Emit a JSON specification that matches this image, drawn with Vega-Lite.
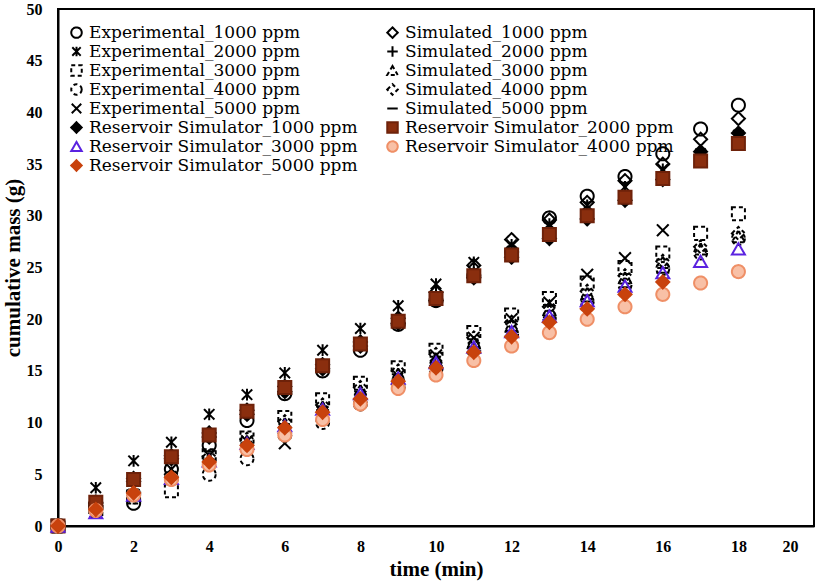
{
  "$schema": "https://vega.github.io/schema/vega-lite/v6.json",
  "width": 756,
  "height": 517,
  "autosize": {"type": "none"},
  "padding": {"left": 58, "top": 9, "right": 12, "bottom": 55},
  "background": "white",
  "config": {
    "view": {"stroke": "black", "strokeWidth": 2},
    "axis": {
      "domainColor": "black", "domainWidth": 2, "grid": false, "ticks": false,
      "labelFont": "Liberation Serif", "labelFontWeight": "bold", "labelFontSize": 16, "labelColor": "black",
      "titleFont": "Liberation Serif", "titleFontWeight": "bold", "titleFontSize": 21, "titleColor": "black"
    }
  },
  "data": {"values": [
    {"s":"Experimental_1000 ppm","t":0,"m":0},{"s":"Experimental_1000 ppm","t":1,"m":1.9},{"s":"Experimental_1000 ppm","t":2,"m":2.2},{"s":"Experimental_1000 ppm","t":3,"m":5.5},{"s":"Experimental_1000 ppm","t":4,"m":7.8},{"s":"Experimental_1000 ppm","t":5,"m":10.2},{"s":"Experimental_1000 ppm","t":6,"m":12.8},{"s":"Experimental_1000 ppm","t":7,"m":15.0},{"s":"Experimental_1000 ppm","t":8,"m":17.0},{"s":"Experimental_1000 ppm","t":9,"m":19.5},{"s":"Experimental_1000 ppm","t":10,"m":21.8},{"s":"Experimental_1000 ppm","t":11,"m":24.2},{"s":"Experimental_1000 ppm","t":12,"m":26.5},{"s":"Experimental_1000 ppm","t":13,"m":29.8},{"s":"Experimental_1000 ppm","t":14,"m":31.9},{"s":"Experimental_1000 ppm","t":15,"m":33.8},{"s":"Experimental_1000 ppm","t":16,"m":36.0},{"s":"Experimental_1000 ppm","t":17,"m":38.4},{"s":"Experimental_1000 ppm","t":18,"m":40.7},
    {"s":"Experimental_2000 ppm","t":0,"m":0},{"s":"Experimental_2000 ppm","t":1,"m":3.7},{"s":"Experimental_2000 ppm","t":2,"m":6.3},{"s":"Experimental_2000 ppm","t":3,"m":8.1},{"s":"Experimental_2000 ppm","t":4,"m":10.8},{"s":"Experimental_2000 ppm","t":5,"m":12.7},{"s":"Experimental_2000 ppm","t":6,"m":14.8},{"s":"Experimental_2000 ppm","t":7,"m":17.0},{"s":"Experimental_2000 ppm","t":8,"m":19.1},{"s":"Experimental_2000 ppm","t":9,"m":21.3},{"s":"Experimental_2000 ppm","t":10,"m":23.4},{"s":"Experimental_2000 ppm","t":11,"m":25.5},{"s":"Experimental_2000 ppm","t":12,"m":27.2},{"s":"Experimental_2000 ppm","t":13,"m":29.2},{"s":"Experimental_2000 ppm","t":14,"m":31.0},{"s":"Experimental_2000 ppm","t":15,"m":32.8},{"s":"Experimental_2000 ppm","t":16,"m":34.5},{"s":"Experimental_2000 ppm","t":17,"m":36.0},{"s":"Experimental_2000 ppm","t":18,"m":37.8},
    {"s":"Experimental_3000 ppm","t":0,"m":0},{"s":"Experimental_3000 ppm","t":1,"m":1.5},{"s":"Experimental_3000 ppm","t":2,"m":2.8},{"s":"Experimental_3000 ppm","t":3,"m":3.4},{"s":"Experimental_3000 ppm","t":4,"m":6.8},{"s":"Experimental_3000 ppm","t":5,"m":8.5},{"s":"Experimental_3000 ppm","t":6,"m":10.5},{"s":"Experimental_3000 ppm","t":7,"m":12.2},{"s":"Experimental_3000 ppm","t":8,"m":13.8},{"s":"Experimental_3000 ppm","t":9,"m":15.3},{"s":"Experimental_3000 ppm","t":10,"m":17.0},{"s":"Experimental_3000 ppm","t":11,"m":18.7},{"s":"Experimental_3000 ppm","t":12,"m":20.4},{"s":"Experimental_3000 ppm","t":13,"m":22.0},{"s":"Experimental_3000 ppm","t":14,"m":23.5},{"s":"Experimental_3000 ppm","t":15,"m":25.0},{"s":"Experimental_3000 ppm","t":16,"m":26.4},{"s":"Experimental_3000 ppm","t":17,"m":28.3},{"s":"Experimental_3000 ppm","t":18,"m":30.2},
    {"s":"Experimental_4000 ppm","t":0,"m":0},{"s":"Experimental_4000 ppm","t":1,"m":1.6},{"s":"Experimental_4000 ppm","t":2,"m":2.8},{"s":"Experimental_4000 ppm","t":3,"m":4.6},{"s":"Experimental_4000 ppm","t":4,"m":5.0},{"s":"Experimental_4000 ppm","t":5,"m":6.5},{"s":"Experimental_4000 ppm","t":6,"m":8.8},{"s":"Experimental_4000 ppm","t":7,"m":10.0},{"s":"Experimental_4000 ppm","t":8,"m":11.8},{"s":"Experimental_4000 ppm","t":9,"m":13.5},{"s":"Experimental_4000 ppm","t":10,"m":15.2},{"s":"Experimental_4000 ppm","t":11,"m":17.0},{"s":"Experimental_4000 ppm","t":12,"m":18.6},{"s":"Experimental_4000 ppm","t":13,"m":20.2},{"s":"Experimental_4000 ppm","t":14,"m":21.7},{"s":"Experimental_4000 ppm","t":15,"m":23.3},{"s":"Experimental_4000 ppm","t":16,"m":24.9},{"s":"Experimental_4000 ppm","t":17,"m":26.4},{"s":"Experimental_4000 ppm","t":18,"m":27.8},
    {"s":"Experimental_5000 ppm","t":0,"m":0},{"s":"Experimental_5000 ppm","t":1,"m":1.8},{"s":"Experimental_5000 ppm","t":2,"m":3.0},{"s":"Experimental_5000 ppm","t":3,"m":5.5},{"s":"Experimental_5000 ppm","t":4,"m":6.8},{"s":"Experimental_5000 ppm","t":5,"m":8.2},{"s":"Experimental_5000 ppm","t":6,"m":8.0},{"s":"Experimental_5000 ppm","t":7,"m":11.0},{"s":"Experimental_5000 ppm","t":8,"m":12.5},{"s":"Experimental_5000 ppm","t":9,"m":14.5},{"s":"Experimental_5000 ppm","t":10,"m":16.5},{"s":"Experimental_5000 ppm","t":11,"m":18.2},{"s":"Experimental_5000 ppm","t":12,"m":20.0},{"s":"Experimental_5000 ppm","t":13,"m":21.6},{"s":"Experimental_5000 ppm","t":14,"m":24.3},{"s":"Experimental_5000 ppm","t":15,"m":25.9},{"s":"Experimental_5000 ppm","t":16,"m":28.6},
    {"s":"Simulated_1000 ppm","t":0,"m":0},{"s":"Simulated_1000 ppm","t":1,"m":2.3},{"s":"Simulated_1000 ppm","t":2,"m":4.6},{"s":"Simulated_1000 ppm","t":3,"m":6.8},{"s":"Simulated_1000 ppm","t":4,"m":9.0},{"s":"Simulated_1000 ppm","t":5,"m":11.2},{"s":"Simulated_1000 ppm","t":6,"m":13.5},{"s":"Simulated_1000 ppm","t":7,"m":15.6},{"s":"Simulated_1000 ppm","t":8,"m":17.8},{"s":"Simulated_1000 ppm","t":9,"m":20.1},{"s":"Simulated_1000 ppm","t":10,"m":22.6},{"s":"Simulated_1000 ppm","t":11,"m":25.2},{"s":"Simulated_1000 ppm","t":12,"m":27.7},{"s":"Simulated_1000 ppm","t":13,"m":29.6},{"s":"Simulated_1000 ppm","t":14,"m":31.3},{"s":"Simulated_1000 ppm","t":15,"m":33.4},{"s":"Simulated_1000 ppm","t":16,"m":35.0},{"s":"Simulated_1000 ppm","t":17,"m":37.4},{"s":"Simulated_1000 ppm","t":18,"m":39.4},
    {"s":"Simulated_2000 ppm","t":0,"m":0},{"s":"Simulated_2000 ppm","t":1,"m":2.4},{"s":"Simulated_2000 ppm","t":2,"m":4.6},{"s":"Simulated_2000 ppm","t":3,"m":6.8},{"s":"Simulated_2000 ppm","t":4,"m":9.0},{"s":"Simulated_2000 ppm","t":5,"m":11.2},{"s":"Simulated_2000 ppm","t":6,"m":13.4},{"s":"Simulated_2000 ppm","t":7,"m":15.6},{"s":"Simulated_2000 ppm","t":8,"m":17.8},{"s":"Simulated_2000 ppm","t":9,"m":20.0},{"s":"Simulated_2000 ppm","t":10,"m":22.2},{"s":"Simulated_2000 ppm","t":11,"m":24.4},{"s":"Simulated_2000 ppm","t":12,"m":26.5},{"s":"Simulated_2000 ppm","t":13,"m":28.5},{"s":"Simulated_2000 ppm","t":14,"m":30.4},{"s":"Simulated_2000 ppm","t":15,"m":32.2},{"s":"Simulated_2000 ppm","t":16,"m":34.0},{"s":"Simulated_2000 ppm","t":17,"m":35.8},{"s":"Simulated_2000 ppm","t":18,"m":37.4},
    {"s":"Simulated_3000 ppm","t":0,"m":0},{"s":"Simulated_3000 ppm","t":1,"m":1.5},{"s":"Simulated_3000 ppm","t":2,"m":3.2},{"s":"Simulated_3000 ppm","t":3,"m":4.9},{"s":"Simulated_3000 ppm","t":4,"m":6.5},{"s":"Simulated_3000 ppm","t":5,"m":8.2},{"s":"Simulated_3000 ppm","t":6,"m":9.9},{"s":"Simulated_3000 ppm","t":7,"m":11.5},{"s":"Simulated_3000 ppm","t":8,"m":13.1},{"s":"Simulated_3000 ppm","t":9,"m":14.7},{"s":"Simulated_3000 ppm","t":10,"m":16.2},{"s":"Simulated_3000 ppm","t":11,"m":17.8},{"s":"Simulated_3000 ppm","t":12,"m":19.4},{"s":"Simulated_3000 ppm","t":13,"m":20.9},{"s":"Simulated_3000 ppm","t":14,"m":22.5},{"s":"Simulated_3000 ppm","t":15,"m":24.0},{"s":"Simulated_3000 ppm","t":16,"m":25.5},{"s":"Simulated_3000 ppm","t":17,"m":26.8},{"s":"Simulated_3000 ppm","t":18,"m":28.0},
    {"s":"Simulated_4000 ppm","t":0,"m":0},{"s":"Simulated_4000 ppm","t":1,"m":1.7},{"s":"Simulated_4000 ppm","t":2,"m":3.3},{"s":"Simulated_4000 ppm","t":3,"m":5.0},{"s":"Simulated_4000 ppm","t":4,"m":6.7},{"s":"Simulated_4000 ppm","t":5,"m":8.4},{"s":"Simulated_4000 ppm","t":6,"m":10.1},{"s":"Simulated_4000 ppm","t":7,"m":11.7},{"s":"Simulated_4000 ppm","t":8,"m":13.4},{"s":"Simulated_4000 ppm","t":9,"m":15.0},{"s":"Simulated_4000 ppm","t":10,"m":16.6},{"s":"Simulated_4000 ppm","t":11,"m":18.2},{"s":"Simulated_4000 ppm","t":12,"m":19.7},{"s":"Simulated_4000 ppm","t":13,"m":21.2},{"s":"Simulated_4000 ppm","t":14,"m":22.7},{"s":"Simulated_4000 ppm","t":15,"m":24.2},{"s":"Simulated_4000 ppm","t":16,"m":25.6},{"s":"Simulated_4000 ppm","t":17,"m":27.0},{"s":"Simulated_4000 ppm","t":18,"m":28.3},
    {"s":"Simulated_5000 ppm","t":0,"m":0},{"s":"Simulated_5000 ppm","t":1,"m":1.6},{"s":"Simulated_5000 ppm","t":2,"m":3.2},{"s":"Simulated_5000 ppm","t":3,"m":4.8},{"s":"Simulated_5000 ppm","t":4,"m":6.4},{"s":"Simulated_5000 ppm","t":5,"m":8.0},{"s":"Simulated_5000 ppm","t":6,"m":9.6},{"s":"Simulated_5000 ppm","t":7,"m":11.2},{"s":"Simulated_5000 ppm","t":8,"m":12.7},{"s":"Simulated_5000 ppm","t":9,"m":14.2},{"s":"Simulated_5000 ppm","t":10,"m":15.8},{"s":"Simulated_5000 ppm","t":11,"m":17.3},{"s":"Simulated_5000 ppm","t":12,"m":18.8},{"s":"Simulated_5000 ppm","t":13,"m":20.2},{"s":"Simulated_5000 ppm","t":14,"m":21.7},{"s":"Simulated_5000 ppm","t":15,"m":23.1},{"s":"Simulated_5000 ppm","t":16,"m":24.5},
    {"s":"Reservoir Simulator_1000 ppm","t":0,"m":0},{"s":"Reservoir Simulator_1000 ppm","t":1,"m":2.2},{"s":"Reservoir Simulator_1000 ppm","t":2,"m":4.3},{"s":"Reservoir Simulator_1000 ppm","t":3,"m":6.5},{"s":"Reservoir Simulator_1000 ppm","t":4,"m":8.6},{"s":"Reservoir Simulator_1000 ppm","t":5,"m":10.8},{"s":"Reservoir Simulator_1000 ppm","t":6,"m":13.0},{"s":"Reservoir Simulator_1000 ppm","t":7,"m":15.2},{"s":"Reservoir Simulator_1000 ppm","t":8,"m":17.4},{"s":"Reservoir Simulator_1000 ppm","t":9,"m":19.6},{"s":"Reservoir Simulator_1000 ppm","t":10,"m":21.8},{"s":"Reservoir Simulator_1000 ppm","t":11,"m":24.0},{"s":"Reservoir Simulator_1000 ppm","t":12,"m":26.0},{"s":"Reservoir Simulator_1000 ppm","t":13,"m":27.8},{"s":"Reservoir Simulator_1000 ppm","t":14,"m":29.7},{"s":"Reservoir Simulator_1000 ppm","t":15,"m":31.5},{"s":"Reservoir Simulator_1000 ppm","t":16,"m":33.5},{"s":"Reservoir Simulator_1000 ppm","t":17,"m":36.2},{"s":"Reservoir Simulator_1000 ppm","t":18,"m":38.0},
    {"s":"Reservoir Simulator_2000 ppm","t":0,"m":0},{"s":"Reservoir Simulator_2000 ppm","t":1,"m":2.3},{"s":"Reservoir Simulator_2000 ppm","t":2,"m":4.5},{"s":"Reservoir Simulator_2000 ppm","t":3,"m":6.7},{"s":"Reservoir Simulator_2000 ppm","t":4,"m":8.8},{"s":"Reservoir Simulator_2000 ppm","t":5,"m":11.1},{"s":"Reservoir Simulator_2000 ppm","t":6,"m":13.4},{"s":"Reservoir Simulator_2000 ppm","t":7,"m":15.5},{"s":"Reservoir Simulator_2000 ppm","t":8,"m":17.6},{"s":"Reservoir Simulator_2000 ppm","t":9,"m":19.8},{"s":"Reservoir Simulator_2000 ppm","t":10,"m":22.0},{"s":"Reservoir Simulator_2000 ppm","t":11,"m":24.2},{"s":"Reservoir Simulator_2000 ppm","t":12,"m":26.2},{"s":"Reservoir Simulator_2000 ppm","t":13,"m":28.2},{"s":"Reservoir Simulator_2000 ppm","t":14,"m":30.0},{"s":"Reservoir Simulator_2000 ppm","t":15,"m":31.8},{"s":"Reservoir Simulator_2000 ppm","t":16,"m":33.6},{"s":"Reservoir Simulator_2000 ppm","t":17,"m":35.3},{"s":"Reservoir Simulator_2000 ppm","t":18,"m":37.0},
    {"s":"Reservoir Simulator_3000 ppm","t":0,"m":0},{"s":"Reservoir Simulator_3000 ppm","t":1,"m":1.3},{"s":"Reservoir Simulator_3000 ppm","t":2,"m":3.0},{"s":"Reservoir Simulator_3000 ppm","t":3,"m":4.6},{"s":"Reservoir Simulator_3000 ppm","t":4,"m":6.3},{"s":"Reservoir Simulator_3000 ppm","t":5,"m":8.0},{"s":"Reservoir Simulator_3000 ppm","t":6,"m":9.7},{"s":"Reservoir Simulator_3000 ppm","t":7,"m":11.3},{"s":"Reservoir Simulator_3000 ppm","t":8,"m":12.8},{"s":"Reservoir Simulator_3000 ppm","t":9,"m":14.3},{"s":"Reservoir Simulator_3000 ppm","t":10,"m":15.8},{"s":"Reservoir Simulator_3000 ppm","t":11,"m":17.3},{"s":"Reservoir Simulator_3000 ppm","t":12,"m":18.8},{"s":"Reservoir Simulator_3000 ppm","t":13,"m":20.3},{"s":"Reservoir Simulator_3000 ppm","t":14,"m":21.8},{"s":"Reservoir Simulator_3000 ppm","t":15,"m":23.2},{"s":"Reservoir Simulator_3000 ppm","t":16,"m":24.5},{"s":"Reservoir Simulator_3000 ppm","t":17,"m":25.6},{"s":"Reservoir Simulator_3000 ppm","t":18,"m":26.8},
    {"s":"Reservoir Simulator_4000 ppm","t":0,"m":0},{"s":"Reservoir Simulator_4000 ppm","t":1,"m":1.5},{"s":"Reservoir Simulator_4000 ppm","t":2,"m":3.0},{"s":"Reservoir Simulator_4000 ppm","t":3,"m":4.5},{"s":"Reservoir Simulator_4000 ppm","t":4,"m":5.9},{"s":"Reservoir Simulator_4000 ppm","t":5,"m":7.4},{"s":"Reservoir Simulator_4000 ppm","t":6,"m":8.8},{"s":"Reservoir Simulator_4000 ppm","t":7,"m":10.3},{"s":"Reservoir Simulator_4000 ppm","t":8,"m":11.8},{"s":"Reservoir Simulator_4000 ppm","t":9,"m":13.3},{"s":"Reservoir Simulator_4000 ppm","t":10,"m":14.6},{"s":"Reservoir Simulator_4000 ppm","t":11,"m":16.0},{"s":"Reservoir Simulator_4000 ppm","t":12,"m":17.4},{"s":"Reservoir Simulator_4000 ppm","t":13,"m":18.7},{"s":"Reservoir Simulator_4000 ppm","t":14,"m":20.0},{"s":"Reservoir Simulator_4000 ppm","t":15,"m":21.2},{"s":"Reservoir Simulator_4000 ppm","t":16,"m":22.4},{"s":"Reservoir Simulator_4000 ppm","t":17,"m":23.5},{"s":"Reservoir Simulator_4000 ppm","t":18,"m":24.6},
    {"s":"Reservoir Simulator_5000 ppm","t":0,"m":0},{"s":"Reservoir Simulator_5000 ppm","t":1,"m":1.6},{"s":"Reservoir Simulator_5000 ppm","t":2,"m":3.2},{"s":"Reservoir Simulator_5000 ppm","t":3,"m":4.7},{"s":"Reservoir Simulator_5000 ppm","t":4,"m":6.2},{"s":"Reservoir Simulator_5000 ppm","t":5,"m":7.8},{"s":"Reservoir Simulator_5000 ppm","t":6,"m":9.5},{"s":"Reservoir Simulator_5000 ppm","t":7,"m":11.0},{"s":"Reservoir Simulator_5000 ppm","t":8,"m":12.3},{"s":"Reservoir Simulator_5000 ppm","t":9,"m":14.0},{"s":"Reservoir Simulator_5000 ppm","t":10,"m":15.3},{"s":"Reservoir Simulator_5000 ppm","t":11,"m":16.8},{"s":"Reservoir Simulator_5000 ppm","t":12,"m":18.3},{"s":"Reservoir Simulator_5000 ppm","t":13,"m":19.7},{"s":"Reservoir Simulator_5000 ppm","t":14,"m":21.0},{"s":"Reservoir Simulator_5000 ppm","t":15,"m":22.4},{"s":"Reservoir Simulator_5000 ppm","t":16,"m":23.6}
  ]},
  "mark": {"type": "point", "size": 170, "strokeWidth": 2, "opacity": 1, "filled": false},
  "encoding": {
    "x": {"field": "t", "type": "quantitative", "title": "time (min)",
      "scale": {"domain": [0, 20], "nice": false, "zero": true},
      "axis": {"values": [0,2,4,6,8,10,12,14,16,18,20], "labelFlush": false, "labelPadding": 12, "titlePadding": 4,
        "labelOffset": {"condition": {"test": "datum.value == 20", "value": -24}, "value": 0}}},
    "y": {"field": "m", "type": "quantitative", "title": "cumulative mass (g)",
      "scale": {"domain": [0, 50], "nice": false},
      "axis": {"values": [0,5,10,15,20,25,30,35,40,45,50], "labelPadding": 16, "titlePadding": 3}},
    "shape": {"field": "s", "type": "nominal", "title": null,
      "scale": {
        "domain": ["Experimental_1000 ppm","Experimental_2000 ppm","Experimental_3000 ppm","Experimental_4000 ppm","Experimental_5000 ppm","Reservoir Simulator_1000 ppm","Reservoir Simulator_3000 ppm","Reservoir Simulator_5000 ppm","Simulated_1000 ppm","Simulated_2000 ppm","Simulated_3000 ppm","Simulated_4000 ppm","Simulated_5000 ppm","Reservoir Simulator_2000 ppm","Reservoir Simulator_4000 ppm"],
        "range": ["circle","M-0.8,-0.8L0.8,0.8M-0.8,0.8L0.8,-0.8M0,-0.9L0,0.9","square","circle","M-0.9,-0.9L0.9,0.9M-0.9,0.9L0.9,-0.9","diamond","triangle-up","diamond","diamond","M-1,0L1,0M0,-1L0,1","triangle-up","diamond","stroke","square","circle"]
      },
      "legend": {"orient": "none", "legendX": 10, "legendY": 15, "columns": 2, "columnPadding": 25, "rowPadding": 0,
        "labelFont": "DejaVu Serif", "labelFontSize": 17, "labelColor": "black", "labelOffset": 4, "symbolSize": 110, "symbolStrokeWidth": 2, "padding": 0, "labelLimit": 400}
    },
    "fill": {"field": "s", "type": "nominal", "title": null,
      "scale": {
        "domain": ["Experimental_1000 ppm","Experimental_2000 ppm","Experimental_3000 ppm","Experimental_4000 ppm","Experimental_5000 ppm","Reservoir Simulator_1000 ppm","Reservoir Simulator_3000 ppm","Reservoir Simulator_5000 ppm","Simulated_1000 ppm","Simulated_2000 ppm","Simulated_3000 ppm","Simulated_4000 ppm","Simulated_5000 ppm","Reservoir Simulator_2000 ppm","Reservoir Simulator_4000 ppm"],
        "range": ["transparent","transparent","transparent","transparent","transparent","black","transparent","#c8420d","transparent","transparent","transparent","transparent","black","#8a2e0e","#f8c0a6"]
      }
    },
    "stroke": {"field": "s", "type": "nominal", "title": null,
      "scale": {
        "domain": ["Experimental_1000 ppm","Experimental_2000 ppm","Experimental_3000 ppm","Experimental_4000 ppm","Experimental_5000 ppm","Reservoir Simulator_1000 ppm","Reservoir Simulator_3000 ppm","Reservoir Simulator_5000 ppm","Simulated_1000 ppm","Simulated_2000 ppm","Simulated_3000 ppm","Simulated_4000 ppm","Simulated_5000 ppm","Reservoir Simulator_2000 ppm","Reservoir Simulator_4000 ppm"],
        "range": ["black","black","black","black","black","black","#5a22e0","#c8420d","black","black","black","black","black","#6e220a","#ef8f66"]
      }
    },
    "strokeDash": {"field": "s", "type": "nominal", "title": null,
      "scale": {
        "domain": ["Experimental_1000 ppm","Experimental_2000 ppm","Experimental_3000 ppm","Experimental_4000 ppm","Experimental_5000 ppm","Reservoir Simulator_1000 ppm","Reservoir Simulator_3000 ppm","Reservoir Simulator_5000 ppm","Simulated_1000 ppm","Simulated_2000 ppm","Simulated_3000 ppm","Simulated_4000 ppm","Simulated_5000 ppm","Reservoir Simulator_2000 ppm","Reservoir Simulator_4000 ppm"],
        "range": [[1,0],[1,0],[4,3],[4,3],[1,0],[1,0],[1,0],[1,0],[1,0],[1,0],[4,3],[4,3],[1,0],[1,0],[1,0]]
      }
    }
  }
}
